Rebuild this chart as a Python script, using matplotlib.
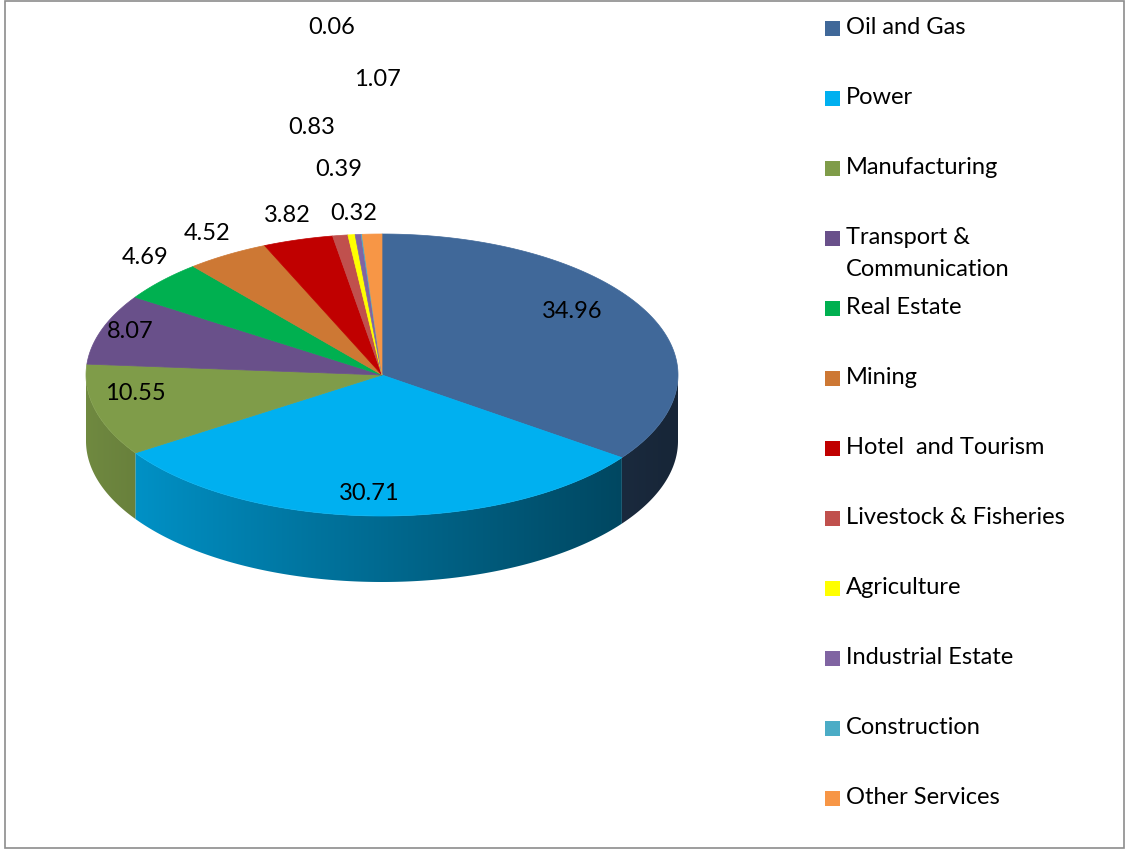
import numpy as np
import matplotlib.pyplot as plt
from matplotlib.patches import Rectangle, Polygon
from matplotlib.colors import to_rgb

plt.rcParams["font.family"] = ["Lato", "DejaVu Sans"]

sectors = [
    "Oil and Gas", "Power", "Manufacturing", "Transport &\nCommunication",
    "Real Estate", "Mining", "Hotel  and Tourism", "Livestock & Fisheries",
    "Agriculture", "Industrial Estate", "Construction", "Other Services",
]
shares = [34.96, 30.71, 10.55, 8.07, 4.69, 4.52, 3.82, 0.83, 0.39, 0.32, 0.06, 1.07]
colors = [
    "#406899", "#00B0F0", "#7F9C49", "#69508A", "#00B050", "#CD7834",
    "#C00000", "#C0504D", "#FFFF00", "#8064A2", "#4BACC6", "#F79646",
]

# where Excel put each value label (pixels)
label_xy = [
    (572, 311), (369, 494), (135, 394), (130, 331), (145, 258), (207, 233),
    (287, 216), (312, 127), (339, 170), (354, 213), (332, 28), (377, 80),
]

W, H = 1128, 851
fig = plt.figure(figsize=(W / 100, H / 100), dpi=100)
ax = fig.add_axes([0, 0, 1, 1])
ax.set_xlim(0, W)
ax.set_ylim(H, 0)
ax.axis("off")

cx, cy, rx, ry, depth = 382, 375, 296, 141, 66


def rim(theta):
    t = np.radians(theta)
    return cx + rx * np.sin(t), cy - ry * np.cos(t)


bounds = 360 * np.concatenate([[0], np.cumsum(shares)]) / sum(shares)

# side wall (front half only), shaded light->dark from left to right
gx = np.linspace(cx - rx, cx + rx, 400)
shade = 0.88 - 0.52 * ((gx - gx[0]) / (2 * rx)) ** 0.9
for i, col in enumerate(colors):
    lo, hi = max(bounds[i], 90), min(bounds[i + 1], 270)
    if lo >= hi:
        continue
    th = np.linspace(lo, hi, max(2, int((hi - lo) * 3)))
    xs, ys = rim(th)
    pts = list(zip(xs, ys)) + list(zip(xs[::-1], ys[::-1] + depth))
    side = Polygon(pts, closed=True, facecolor="none", edgecolor="none")
    ax.add_patch(side)
    img = np.clip(np.array(to_rgb(col))[None, None, :] * shade[None, :, None], 0, 1)
    im = ax.imshow(img, extent=(cx - rx, cx + rx, cy + ry + depth + 2, cy - 2),
                   aspect="auto", interpolation="bilinear", zorder=1)
    im.set_clip_path(side)

# top face
for i, col in enumerate(colors):
    a0, a1 = bounds[i], bounds[i + 1]
    th = np.linspace(a0, a1, max(2, int((a1 - a0) * 2)))
    xs, ys = rim(th)
    pts = [(cx, cy)] + list(zip(xs, ys))
    ax.add_patch(Polygon(pts, closed=True, facecolor=col, edgecolor=col,
                         linewidth=0.5, zorder=2))

ax.set_xlim(0, W)
ax.set_ylim(H, 0)

for v, (x, y) in zip(shares, label_xy):
    ax.text(x, y, f"{v:.2f}", ha="center", va="center", fontsize=17, color="black", zorder=5)

# legend
for k, (name, col) in enumerate(zip(sectors, colors)):
    y = 28 + 70 * k
    ax.add_patch(Rectangle((825, y - 7.5), 15, 15, facecolor=col, edgecolor="none"))
    for j, line in enumerate(name.split("\n")):
        ax.text(846, y + 32 * j, line, ha="left", va="center", fontsize=17, color="black")

ax.add_patch(Rectangle((5, 1), 1119, 847, fill=False, edgecolor="#8C8C8C", linewidth=1.2))

fig.savefig("out.png", dpi=100)
